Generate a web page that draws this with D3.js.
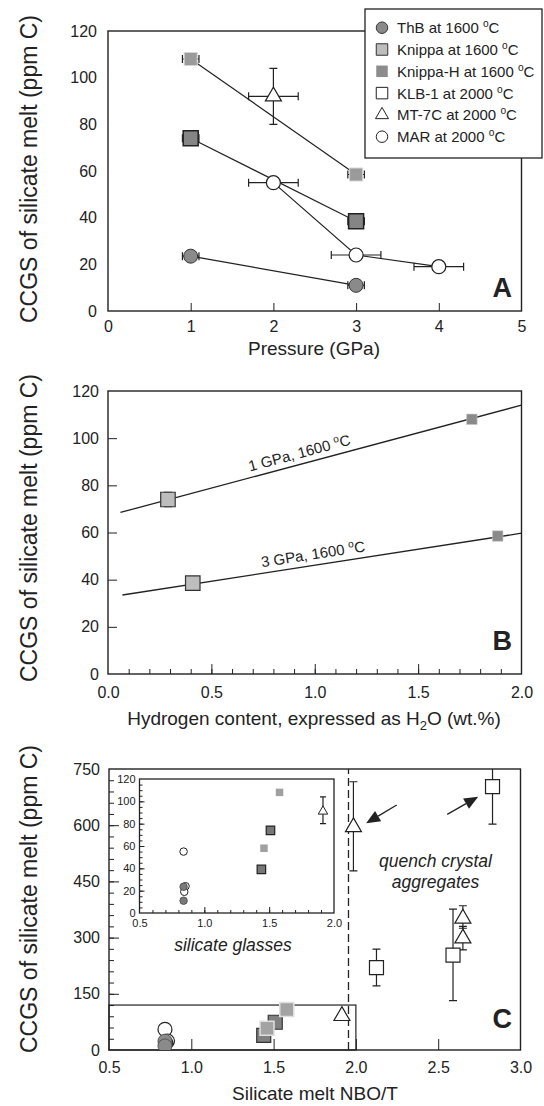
<!DOCTYPE html>
<html>
<head>
<meta charset="utf-8">
<script src="https://cdn.jsdelivr.net/npm/d3@7"></script>
<style>
  body { margin: 0; background: #fff; }
</style>
</head>
<body>
<div id="chart"></div>
<script>
// ---------- data ----------
// Panel A: CCGS of silicate melt vs pressure (GPa)
const thbA = [{ x: 1, y: 23.5, dx: 0.1 }, { x: 3, y: 11, dx: 0.1 }];
const knippaA = [{ x: 1, y: 74, dx: 0.1, lo: 71, hi: 77 }, { x: 3, y: 38.5, dx: 0.1 }];
const knippaHA = [{ x: 1, y: 108, dx: 0.1 }, { x: 3, y: 58.5, dx: 0.1 }];
const mt7cA = [{ x: 2, y: 92, dx: 0.3, lo: 80, hi: 104 }];
const marA = [{ x: 2, y: 55, dx: 0.3 }, { x: 3, y: 24, dx: 0.3 }, { x: 4, y: 19, dx: 0.3 }];
const pressureTicks = [0, 1, 2, 3, 4, 5];
const ccgsTicks = [0, 20, 40, 60, 80, 100, 120];

// Panel B: CCGS vs hydrogen content (wt.% H2O)
const knippaB = [{ x: 0.29, y: 74, lo: 71, hi: 77 }, { x: 0.41, y: 38.5 }];
const knippaHB = [{ x: 1.76, y: 108 }, { x: 1.885, y: 58.5 }];
const fitsB = [
  { label: "1 GPa, 1600 ", x0: 0.06, y0: 68.5, x1: 2.0, y1: 114, at: 0.94 },
  { label: "3 GPa, 1600 ", x0: 0.07, y0: 33.5, x1: 2.0, y1: 59.7, at: 1.0 },
];
const h2oTicks = [0, 0.5, 1, 1.5, 2];

// Panel C: CCGS vs NBO/T
const marC = [{ x: 0.84, y: 55 }, { x: 0.855, y: 24 }, { x: 0.845, y: 19 }];
const thbC = [{ x: 0.84, y: 23.5 }, { x: 0.84, y: 11 }];
const knippaC = [{ x: 1.44, y: 39 }, { x: 1.51, y: 74 }];
const knippaHC = [{ x: 1.46, y: 58 }, { x: 1.58, y: 108 }];
const mt7cC = [
  { x: 1.915, y: 91, lo: 80, hi: 104 },
  { x: 1.985, y: 595, lo: 478, hi: 716 },
  { x: 2.65, y: 351, lo: 325, hi: 385 },
  { x: 2.65, y: 298, lo: 267, hi: 330 },
];
const klbC = [
  { x: 2.125, y: 220, lo: 171, hi: 269 },
  { x: 2.59, y: 253, lo: 132, hi: 376 },
  { x: 2.83, y: 703, lo: 603, hi: 803 },
];
const glassDivide = 1.955;
const glassBox = { x0: 0.5, x1: 2.0, y0: 0, y1: 120 };
const arrowsC = [
  { x0: 2.248, y0: 654, x1: 2.062, y1: 605 },
  { x0: 2.555, y0: 629, x1: 2.743, y1: 676 },
];
const nbotTicks = [0.5, 1.0, 1.5, 2.0, 2.5, 3.0];
const ccgsTicksC = [0, 150, 300, 450, 600, 750];

const legendNames = ["ThB at 1600 ", "Knippa at 1600 ", "Knippa-H at 1600 ", "KLB-1 at 2000 ", "MT-7C at 2000 ", "MAR at 2000 "];
const legendKeys = ["thb", "knippa", "knippaH", "klb", "mt7c", "mar"];

// ---------- setup ----------
const W = 544, H = 1106;
const ink = "#222";
const font = '"Liberation Sans", Arial, Helvetica, sans-serif';

const svg = d3.select("#chart").append("svg")
  .attr("width", W).attr("height", H)
  .attr("font-family", font);

const legendStyle = {
  thb: { shape: "circle", fill: "#8a8a8a", stroke: "#333", sw: 1 },
  knippa: { shape: "square", fill: "#bdbdbd", stroke: "#333", sw: 1 },
  knippaH: { shape: "square", fill: "#8c8c8c", stroke: "none", sw: 0 },
  klb: { shape: "square", fill: "#fff", stroke: ink, sw: 1 },
  mt7c: { shape: "triangle", fill: "#fff", stroke: ink, sw: 1 },
  mar: { shape: "circle", fill: "#fff", stroke: ink, sw: 1 },
};

function marker(g, st, px, py, size) {
  const type = st.shape === "circle" ? d3.symbolCircle : st.shape === "square" ? d3.symbolSquare : d3.symbolTriangle;
  const area = st.shape === "circle" ? Math.PI * size * size / 4
    : st.shape === "square" ? size * size : Math.sqrt(3) / 4 * size * size;
  g.append("path")
    .attr("d", d3.symbol(type, area)())
    .attr("transform", `translate(${px},${py})`)
    .attr("fill", st.fill)
    .attr("stroke", st.stroke)
    .attr("stroke-width", st.sw);
}

function points(g, data, x, y, st, size) {
  data.forEach((d) => marker(g, st, x(d.x), y(d.y), size));
}

function connect(g, data, x, y) {
  g.append("path").datum(data)
    .attr("d", d3.line().x((d) => x(d.x)).y((d) => y(d.y)))
    .attr("fill", "none").attr("stroke", ink).attr("stroke-width", 1.2);
}

function errorBars(g, data, x, y, cap) {
  data.forEach((d) => {
    const px = x(d.x), py = y(d.y);
    if (d.dx) {
      const a = x(d.x - d.dx), b = x(d.x + d.dx);
      g.append("path")
        .attr("d", `M${a},${py}H${b}M${a},${py - cap}V${py + cap}M${b},${py - cap}V${py + cap}`)
        .attr("stroke", ink).attr("stroke-width", 1.2).attr("fill", "none");
    }
    if (d.lo != null) {
      const a = y(d.lo), b = y(d.hi);
      g.append("path")
        .attr("d", `M${px},${a}V${b}M${px - cap},${a}H${px + cap}M${px - cap},${b}H${px + cap}`)
        .attr("stroke", ink).attr("stroke-width", 1.2).attr("fill", "none");
    }
  });
}

function frame(g, x, y, sw) {
  const [x0, x1] = x.range(), [y0, y1] = y.range();
  g.append("rect")
    .attr("x", x0).attr("y", y1).attr("width", x1 - x0).attr("height", y0 - y1)
    .attr("fill", "none").attr("stroke", ink).attr("stroke-width", sw);
}

function axis(g, gen, transform, fs) {
  const a = g.append("g").attr("transform", transform).call(gen);
  a.attr("font-family", font).attr("font-size", fs);
  a.select(".domain").remove();
  a.selectAll("line").attr("stroke", ink);
  a.selectAll("text").attr("fill", ink);
  return a;
}

function degText(t, base, fs) {
  t.append("tspan").text(base);
  t.append("tspan").text("o").attr("font-size", fs * 0.68).attr("dy", -fs * 0.4);
  t.append("tspan").text("C").attr("dy", fs * 0.4);
}

function yTitle(cy) {
  svg.append("text")
    .attr("transform", `translate(37,${cy}) rotate(-90)`)
    .attr("text-anchor", "middle").attr("font-size", 23).attr("fill", ink)
    .text("CCGS of silicate melt (ppm C)");
}

function panelLetter(txt, baseline) {
  svg.append("text").attr("x", 512).attr("y", baseline)
    .attr("text-anchor", "end").attr("font-size", 27).attr("font-weight", "bold")
    .attr("fill", ink).text(txt);
}

// ---------- panel A ----------
const xA = d3.scaleLinear().domain([0, 5]).range([108, 521.5]);
const yA = d3.scaleLinear().domain([0, 120]).range([311, 31]);
const gA = svg.append("g");
frame(gA, xA, yA, 1.4);
axis(gA, d3.axisBottom(xA).tickValues(pressureTicks.slice(1, -1)).tickSize(-8).tickFormat(""), `translate(0,311)`, 16);
axis(gA, d3.axisBottom(xA).tickValues(pressureTicks).tickSize(0).tickPadding(10).tickFormat(d3.format("d")), `translate(0,311)`, 16);
axis(gA, d3.axisLeft(yA).tickValues(ccgsTicks).tickSize(0).tickPadding(11), `translate(108,0)`, 16);

connect(gA, thbA, xA, yA);
connect(gA, knippaA, xA, yA);
connect(gA, knippaHA, xA, yA);
connect(gA, marA, xA, yA);
[thbA, knippaA, knippaHA, mt7cA, marA].forEach((s) => errorBars(gA, s, xA, yA, 4));
points(gA, thbA, xA, yA, { shape: "circle", fill: "#8a8a8a", stroke: "#333", sw: 1 }, 14);
points(gA, knippaA, xA, yA, { shape: "square", fill: "#858585", stroke: "#222", sw: 1.5 }, 15);
points(gA, knippaHA, xA, yA, { shape: "square", fill: "#9a9a9a", stroke: "#d5d5d5", sw: 1 }, 13);
points(gA, mt7cA, xA, yA, { shape: "triangle", fill: "#fff", stroke: ink, sw: 1.2 }, 16);
points(gA, marA, xA, yA, { shape: "circle", fill: "#fff", stroke: ink, sw: 1.2 }, 14);

svg.append("text").attr("x", 314).attr("y", 355).attr("text-anchor", "middle")
  .attr("font-size", 19).attr("fill", ink).text("Pressure (GPa)");
yTitle(169);
panelLetter("A", 297);

// legend
const lg = svg.append("g");
lg.append("rect").attr("x", 365).attr("y", 9).attr("width", 177).attr("height", 149)
  .attr("fill", "#fff").attr("stroke", ink).attr("stroke-width", 1.3);
legendKeys.forEach((k, i) => {
  const cy = 27.7 + i * 21.8;
  marker(lg, legendStyle[k], 382, cy, legendStyle[k].shape === "triangle" ? 13 : legendStyle[k].shape === "circle" ? 11.5 : 11.5);
  const t = lg.append("text").attr("x", 397).attr("y", cy + 5.5).attr("font-size", 15).attr("fill", ink);
  degText(t, legendNames[i], 15);
});

// ---------- panel B ----------
const xB = d3.scaleLinear().domain([0, 2]).range([108, 521.5]);
const yB = d3.scaleLinear().domain([0, 120]).range([674, 391]);
const gB = svg.append("g");
frame(gB, xB, yB, 1.4);
axis(gB, d3.axisBottom(xB).tickValues(d3.range(0.1, 2, 0.1)).tickSize(-5).tickFormat(""), `translate(0,674)`, 16);
axis(gB, d3.axisBottom(xB).tickValues(h2oTicks.slice(1, -1)).tickSize(-10).tickFormat(""), `translate(0,674)`, 16);
axis(gB, d3.axisBottom(xB).tickValues(h2oTicks).tickSize(0).tickPadding(13).tickFormat(d3.format(".1f")), `translate(0,674)`, 16);
axis(gB, d3.axisLeft(yB).tickValues(ccgsTicks.slice(1, -1)).tickSize(-9).tickFormat(""), `translate(108,0)`, 16);
axis(gB, d3.axisLeft(yB).tickValues(ccgsTicks).tickSize(0).tickPadding(9), `translate(108,0)`, 16);

fitsB.forEach((f) => {
  const p0 = [xB(f.x0), yB(f.y0)], p1 = [xB(f.x1), yB(f.y1)];
  gB.append("line").attr("x1", p0[0]).attr("y1", p0[1]).attr("x2", p1[0]).attr("y2", p1[1])
    .attr("stroke", ink).attr("stroke-width", 1.3);
  const ang = Math.atan2(p1[1] - p0[1], p1[0] - p0[0]) * 180 / Math.PI;
  const yv = f.y0 + (f.y1 - f.y0) * (f.at - f.x0) / (f.x1 - f.x0);
  const t = gB.append("text")
    .attr("transform", `translate(${xB(f.at)},${yB(yv)}) rotate(${ang})`)
    .attr("y", -6).attr("text-anchor", "middle").attr("font-size", 15).attr("fill", ink);
  degText(t, f.label, 15);
});
errorBars(gB, knippaB, xB, yB, 4);
points(gB, knippaB, xB, yB, { shape: "square", fill: "#bdbdbd", stroke: "#333", sw: 1.2 }, 14.5);
points(gB, knippaHB, xB, yB, { shape: "square", fill: "#8a8a8a", stroke: "#c8c8c8", sw: 0.6 }, 10.5);

const tB = svg.append("text").attr("x", 314).attr("y", 725).attr("text-anchor", "middle")
  .attr("font-size", 19).attr("fill", ink);
tB.append("tspan").text("Hydrogen content, expressed as H");
tB.append("tspan").text("2").attr("font-size", 13).attr("dy", 5);
tB.append("tspan").text("O (wt.%)").attr("dy", -5);
yTitle(528);
panelLetter("B", 650);

// ---------- panel C ----------
const xC = d3.scaleLinear().domain([0.5, 3]).range([109, 520.5]);
const yC = d3.scaleLinear().domain([0, 750]).range([1050, 769]);
const gC = svg.append("g");
svg.append("clipPath").attr("id", "clipC").append("rect")
  .attr("x", 109).attr("y", 769).attr("width", 411.5).attr("height", 281);
frame(gC, xC, yC, 1.4);
axis(gC, d3.axisBottom(xC).tickValues(nbotTicks.slice(1, -1)).tickSize(-11).tickFormat(""), `translate(0,1050)`, 16);
axis(gC, d3.axisBottom(xC).tickValues(nbotTicks).tickSize(0).tickPadding(12).tickFormat(d3.format(".1f")), `translate(0,1050)`, 16);
axis(gC, d3.axisLeft(yC).tickValues(d3.range(30, 750, 30)).tickSize(-5).tickFormat(""), `translate(109,0)`, 16);
axis(gC, d3.axisLeft(yC).tickValues(ccgsTicksC.slice(1, -1)).tickSize(-10).tickFormat(""), `translate(109,0)`, 16);
axis(gC, d3.axisLeft(yC).tickValues(ccgsTicksC).tickSize(0).tickPadding(9), `translate(109,0)`, 16);

// dashed divider and glass box
gC.append("line").attr("x1", xC(glassDivide)).attr("x2", xC(glassDivide))
  .attr("y1", yC(0)).attr("y2", yC(750))
  .attr("stroke", ink).attr("stroke-width", 1.3).attr("stroke-dasharray", "8,4");
gC.append("rect")
  .attr("x", xC(glassBox.x0)).attr("y", yC(glassBox.y1))
  .attr("width", xC(glassBox.x1) - xC(glassBox.x0)).attr("height", yC(glassBox.y0) - yC(glassBox.y1))
  .attr("fill", "none").attr("stroke", ink).attr("stroke-width", 1.2);

const pC = gC.append("g").attr("clip-path", "url(#clipC)");
points(pC, marC, xC, yC, { shape: "circle", fill: "#fff", stroke: ink, sw: 1.2 }, 14);
points(pC, thbC, xC, yC, { shape: "circle", fill: "#8a8a8a", stroke: "#555", sw: 1 }, 14);
points(pC, knippaC, xC, yC, { shape: "square", fill: "#808080", stroke: "#333", sw: 1.2 }, 14);
points(pC, knippaHC, xC, yC, { shape: "square", fill: "#a3a3a3", stroke: "#e0e0e0", sw: 1.5 }, 14);
errorBars(pC, mt7cC.filter((d) => d.y > 120), xC, yC, 4);
errorBars(pC, klbC, xC, yC, 4);
points(pC, mt7cC, xC, yC, { shape: "triangle", fill: "#fff", stroke: ink, sw: 1.2 }, 16);
points(pC, klbC, xC, yC, { shape: "square", fill: "#fff", stroke: ink, sw: 1.2 }, 14);

arrowsC.forEach((a) => {
  const x0 = xC(a.x0), y0 = yC(a.y0), x1 = xC(a.x1), y1 = yC(a.y1);
  const ang = Math.atan2(y1 - y0, x1 - x0);
  const L = 14, hw = 6;
  const bx = x1 - L * Math.cos(ang), by = y1 - L * Math.sin(ang);
  gC.append("line").attr("x1", x0).attr("y1", y0).attr("x2", bx).attr("y2", by)
    .attr("stroke", ink).attr("stroke-width", 1.3);
  gC.append("path")
    .attr("d", `M${x1},${y1}L${bx + hw * Math.sin(ang)},${by - hw * Math.cos(ang)}L${bx - hw * Math.sin(ang)},${by + hw * Math.cos(ang)}Z`)
    .attr("fill", ink);
});

gC.append("text").attr("x", 435.5).attr("y", 866.7).attr("text-anchor", "middle")
  .attr("font-size", 17.5).attr("font-style", "italic").attr("fill", ink).text("quench crystal");
gC.append("text").attr("x", 435.5).attr("y", 888.3).attr("text-anchor", "middle")
  .attr("font-size", 17.5).attr("font-style", "italic").attr("fill", ink).text("aggregates");
gC.append("text").attr("x", 233).attr("y", 951).attr("text-anchor", "middle")
  .attr("font-size", 17.5).attr("font-style", "italic").attr("fill", ink).text("silicate glasses");

// inset: silicate glasses only
const xI = d3.scaleLinear().domain([0.5, 2.0]).range([139.5, 334]);
const yI = d3.scaleLinear().domain([0, 120]).range([913, 779]);
const gI = svg.append("g");
gI.append("rect").attr("x", 139.5).attr("y", 779).attr("width", 194.5).attr("height", 134).attr("fill", "#fff");
frame(gI, xI, yI, 1.3);
axis(gI, d3.axisBottom(xI).tickValues(d3.range(0.6, 2.0, 0.1)).tickSize(-3).tickFormat(""), `translate(0,913)`, 11);
axis(gI, d3.axisBottom(xI).tickValues([1.0, 1.5]).tickSize(-6).tickFormat(""), `translate(0,913)`, 11);
axis(gI, d3.axisBottom(xI).tickValues([0.5, 1.0, 1.5, 2.0]).tickSize(0).tickPadding(6).tickFormat(d3.format(".1f")), `translate(0,913)`, 11);
axis(gI, d3.axisLeft(yI).tickValues(d3.range(5, 120, 5)).tickSize(-3).tickFormat(""), `translate(139.5,0)`, 11);
axis(gI, d3.axisLeft(yI).tickValues(ccgsTicks.slice(1, -1)).tickSize(-5).tickFormat(""), `translate(139.5,0)`, 11);
axis(gI, d3.axisLeft(yI).tickValues(ccgsTicks).tickSize(0).tickPadding(4), `translate(139.5,0)`, 11);

points(gI, marC, xI, yI, { shape: "circle", fill: "#fff", stroke: ink, sw: 1 }, 7.5);
points(gI, thbC, xI, yI, { shape: "circle", fill: "#7a7a7a", stroke: "#444", sw: 0.8 }, 7.5);
points(gI, knippaC, xI, yI, { shape: "square", fill: "#777", stroke: "#222", sw: 1.2 }, 8.5);
points(gI, knippaHC, xI, yI, { shape: "square", fill: "#a0a0a0", stroke: "none", sw: 0 }, 7.5);
errorBars(gI, mt7cC.filter((d) => d.y <= 120), xI, yI, 3);
points(gI, mt7cC.filter((d) => d.y <= 120), xI, yI, { shape: "triangle", fill: "#fff", stroke: ink, sw: 1 }, 9.5);

svg.append("text").attr("x", 315).attr("y", 1100).attr("text-anchor", "middle")
  .attr("font-size", 19).attr("fill", ink).text("Silicate melt NBO/T");
yTitle(899);
panelLetter("C", 1028);
</script>
</body>
</html>
